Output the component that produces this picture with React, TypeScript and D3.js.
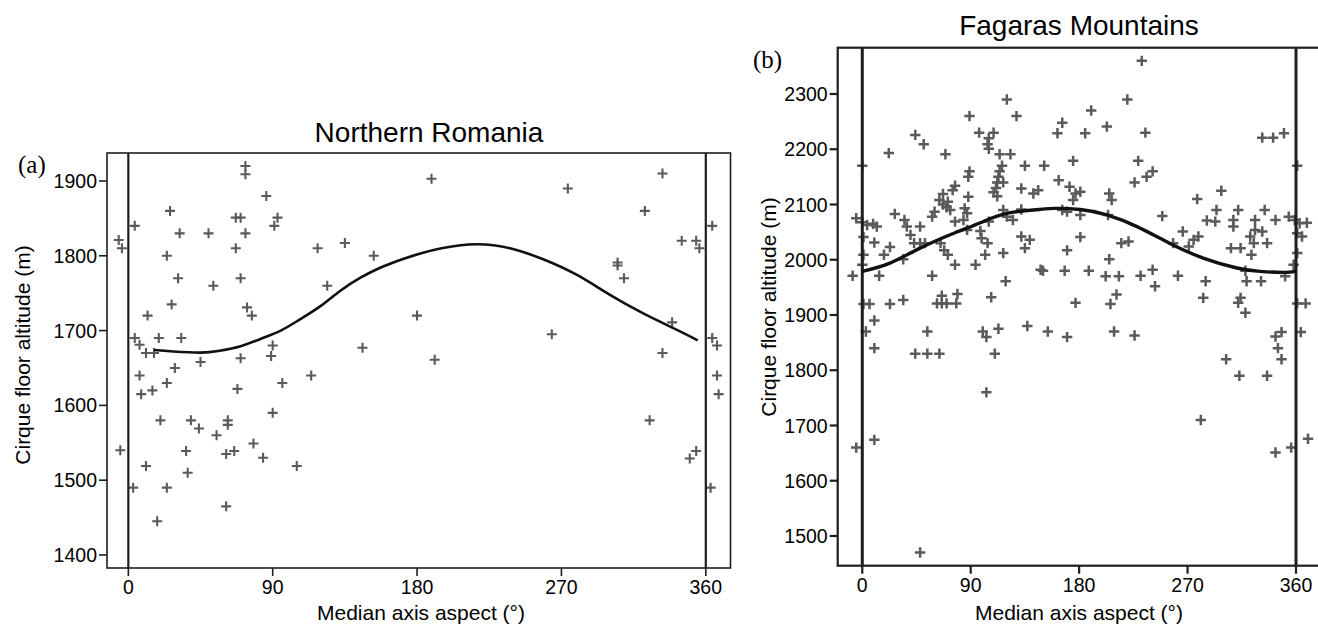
import React from "react";
import * as d3 from "d3";

// ---------- Data ----------
const xTicks = [0, 90, 180, 270, 360];
const northYTicks = [1400, 1500, 1600, 1700, 1800, 1900];
const fagarasYTicks = [1500, 1600, 1700, 1800, 1900, 2000, 2100, 2200, 2300];

const northAspect = [
  -6, -4, 4, 26, 32, 24, 31, 27, 12, 4, 7, 19, 33, 11, 16, 50, 53, 67, 70, 73,
  73, 73, 67, 70, 74, 77, 86, 91, 93, 90, 70, 89, 118, 124, -5, 3, 11, 18, 24, 20,
  7, 8, 15, 24, 29, 45, 68, 96, 114, 90, 39, 44, 55, 62, 62, 36, 37, 61, 66, 78,
  84, 105, 61, 135, 153, 189, 274, 333, 322, 345, 354, 356, 364, 305, 305, 309, 180, 339, 146, 264,
  364, 367, 333, 191, 367, 368, 325, 350, 354, 363,
];
const northAltitude = [
  1821, 1810, 1840, 1860, 1830, 1800, 1770, 1735, 1720, 1690, 1681, 1690, 1690, 1670, 1670, 1830, 1760, 1851, 1851, 1920,
  1909, 1830, 1810, 1770, 1731, 1720, 1880, 1840, 1851, 1680, 1663, 1666, 1810, 1760, 1540, 1490, 1519, 1445, 1490, 1580,
  1640, 1615, 1620, 1630, 1650, 1658, 1622, 1630, 1640, 1590, 1580, 1569, 1560, 1580, 1574, 1539, 1510, 1535, 1539, 1549,
  1530, 1519, 1465, 1817, 1800, 1903, 1890, 1910, 1860, 1820, 1820, 1810, 1840, 1791, 1787, 1770, 1720, 1711, 1677, 1695,
  1690, 1680, 1670, 1661, 1640, 1615, 1580, 1529, 1539, 1490,
];

const fagarasAspect = [
  -8, -5, 0, 0, 4, 9, 12, 1, 1, 0, 10, 14, 22, 27, 18, 23, 35, 37, 34, 40,
  43, 48, 52, 48, 44, 51, 58, 69, 58, 60, 64, 67, 70, 71, 73, 67, 75, 77, 65, 68,
  71, 77, 77, 84, 87, 85, 87, 88, 89, 89, 88, 97, 105, 109, 104, 105, 62, 66, 70, 78,
  66, 79, 107, 98, 99, 104, 102, 94, 105, 117, 119, 109, 111, 112, 113, 114, 116, 117, 112, 114,
  123, 120, 128, 135, 117, 120, 125, 132, 132, 142, 146, 132, 139, 135, 148, 151, 175, 163, 172, 177,
  181, 175, 166, 170, 181, 181, 170, 150, 168, 188, 177, 205, 207, 203, 190, 185, 162, 166, 204, 215,
  221, 205, 202, 213, 206, 211, 220, 232, 235, 229, 226, 236, 241, 231, 241, 243, 249, 262, 266, 258,
  271, 275, 279, 278, 285, 283, 298, 294, 286, 293, 312, 308, 308, 306, 314, 322, 325, 326, 332, 336,
  323, 326, 334, 343, 318, 319, 331, 351, 314, 312, 318, 332, 341, 350, 361, 354, 359, 363, 369, 361,
  365, 361, 358, 361, 368, 1, 6, 23, 34, 10, 3, 10, 44, 54, 64, 54, 48, -5, 10, 100,
  103, 113, 110, 103, 137, 154, 170, 209, 226, 302, 313, 336, 343, 348, 345, 348, 364, 281, 343, 356,
  370,
];
const fagarasAltitude = [
  1971, 2075, 2170, 2068, 2063, 2065, 2060, 2041, 2009, 1991, 2031, 1971, 2193, 2083, 2009, 2023, 2072, 2060, 2001, 2045,
  2030, 2030, 2030, 2060, 2226, 2209, 1971, 2191, 2078, 2087, 2108, 2100, 2095, 2105, 2090, 2119, 2126, 2134, 2030, 2017,
  2009, 1991, 2069, 2072, 2054, 2093, 2084, 2114, 2260, 2160, 2150, 2230, 2220, 2230, 2209, 2201, 1921, 1921, 1921, 1921,
  1935, 1938, 1932, 2052, 2039, 2030, 2009, 1991, 2069, 2012, 1961, 2122, 2130, 2140, 2150, 2160, 2170, 2140, 2115, 2191,
  2191, 2290, 2260, 2170, 2090, 2078, 2072, 2091, 2129, 2120, 2126, 2042, 2036, 2021, 1982, 2170, 2179, 2144, 2132, 2120,
  2123, 2108, 2090, 2087, 2081, 2041, 2017, 1980, 1980, 1980, 1922, 2120, 2108, 2241, 2270, 2229, 2229, 2248, 2081, 2030,
  2033, 2001, 1970, 1970, 1920, 1937, 2290, 2360, 2230, 2179, 2140, 2150, 2160, 1971, 1982, 1952, 2079, 1971, 2051, 2030,
  2024, 2036, 2042, 2110, 1961, 1931, 2125, 2090, 2071, 2069, 2090, 2072, 2060, 2021, 2021, 2042, 2030, 2054, 2051, 2030,
  2009, 2072, 2090, 2072, 1980, 1961, 1961, 1970, 1931, 1922, 1904, 2221, 2221, 2229, 2170, 2078, 2072, 2066, 2067, 2048,
  2042, 2012, 1991, 1921, 1921, 1920, 1920, 1920, 1927, 1890, 1870, 1840, 1830, 1830, 1830, 1870, 1470, 1660, 1674, 1870,
  1860, 1875, 1830, 1760, 1880, 1870, 1860, 1870, 1863, 1820, 1790, 1790, 1861, 1869, 1840, 1820, 1869, 1710, 1651, 1660,
  1676,
];

// fitted curves
const northFitAspect = [16, 28, 45, 57, 70, 82, 95, 107, 120, 132, 145, 157, 169, 181, 196, 217, 238, 259, 280, 300, 321, 342, 355];
const northFitAltitude = [1674, 1672, 1670.5, 1673, 1679, 1688.5, 1700, 1715, 1733, 1753, 1771, 1784, 1794, 1802.5, 1810.5, 1815.5, 1810, 1795, 1774, 1748, 1723, 1701, 1687];
const fagarasFitAspect = [0, 23, 48, 76, 98, 120, 147, 159, 181, 203, 228, 255, 283, 311, 330, 350, 360];
const fagarasFitAltitude = [1979, 1994, 2021, 2048, 2067, 2084, 2091, 2093, 2091, 2081, 2060, 2030, 2003, 1985, 1979, 1977, 1979];

// ---------- Drawing ----------
const SANS = "'Liberation Sans', Arial, Helvetica, sans-serif";
const SERIF = "'Liberation Serif', 'Times New Roman', serif";
const INK = "#1e1e1e";
const MARK = "#5a5a5a";

type PanelProps = {
  title: string;
  titleX: number;
  titleY: number;
  tag: string;
  tagX: number;
  tagY: number;
  xDomain: [number, number];
  xRange: [number, number];
  yDomain: [number, number];
  yRange: [number, number];
  yTicks: number[];
  aspect: number[];
  altitude: number[];
  fitAspect: number[];
  fitAltitude: number[];
  yLabelX: number;
  yLabelY: number;
  xLabelX: number;
  boxWidth: number;
  refWidth: number;
  fitWidth: number;
  plusHalf: number;
  plusWidth: number;
};

function Panel(p: PanelProps) {
  const x = d3.scaleLinear().domain(p.xDomain).range(p.xRange);
  const y = d3.scaleLinear().domain(p.yDomain).range(p.yRange);
  const [x0, x1] = p.xRange;
  const [yb, yt] = p.yRange;
  const fitPts: [number, number][] = p.fitAspect.map((a, i) => [a, p.fitAltitude[i]]);
  const line = d3
    .line<[number, number]>()
    .x((d) => x(d[0]))
    .y((d) => y(d[1]))
    .curve(d3.curveNatural);
  const plus = `M${-p.plusHalf},0H${p.plusHalf}M0,${-p.plusHalf}V${p.plusHalf}`;
  return (
    <g>
      <text x={p.titleX} y={p.titleY} textAnchor="middle" fontFamily={SANS} fontSize={28} fill="#000">
        {p.title}
      </text>
      <text x={p.tagX} y={p.tagY} fontFamily={SERIF} fontSize={25} fill="#000">
        {p.tag}
      </text>
      <g stroke={MARK} strokeWidth={p.plusWidth} fill="none">
        {p.aspect.map((a, i) => (
          <path key={i} d={plus} transform={`translate(${x(a)},${y(p.altitude[i])})`} />
        ))}
      </g>
      {[0, 360].map((v) => (
        <line key={v} x1={x(v)} x2={x(v)} y1={yt} y2={yb} stroke={INK} strokeWidth={p.refWidth} />
      ))}
      <path d={line(fitPts) || ""} fill="none" stroke="#111" strokeWidth={p.fitWidth} />
      <rect x={x0} y={yt} width={x1 - x0} height={yb - yt} fill="none" stroke={INK} strokeWidth={p.boxWidth} />
      {p.yTicks.map((t) => (
        <g key={t}>
          <line x1={x0 - 8} x2={x0} y1={y(t)} y2={y(t)} stroke={INK} strokeWidth={p.boxWidth} />
          <text x={x0 - 10} y={y(t)} dy="0.36em" textAnchor="end" fontFamily={SANS} fontSize={19.5} fill="#000">
            {t}
          </text>
        </g>
      ))}
      {xTicks.map((t) => (
        <g key={t}>
          <line x1={x(t)} x2={x(t)} y1={yb} y2={yb + 8} stroke={INK} strokeWidth={p.boxWidth} />
          <text x={x(t)} y={yb + 26} textAnchor="middle" fontFamily={SANS} fontSize={19.5} fill="#000">
            {t}
          </text>
        </g>
      ))}
      <text
        transform={`translate(${p.yLabelX},${p.yLabelY}) rotate(-90)`}
        textAnchor="middle"
        fontFamily={SANS}
        fontSize={21}
        fill="#000"
      >
        Cirque floor altitude (m)
      </text>
      <text x={p.xLabelX} y={620} textAnchor="middle" fontFamily={SANS} fontSize={21} fill="#000">
        Median axis aspect (°)
      </text>
    </g>
  );
}

export default function App() {
  return (
    <svg
      width={1318}
      height={628}
      viewBox="0 0 1318 628"
      style={{ position: "absolute", left: 0, top: 0, background: "#fff" }}
    >
      <rect x={0} y={0} width={1318} height={628} fill="#fff" />
      <Panel
        title="Northern Romania"
        titleX={429}
        titleY={142}
        tag="(a)"
        tagX={18}
        tagY={173}
        xDomain={[-13.3, 375.4]}
        xRange={[107, 730.5]}
        yDomain={[1382.6, 1937.4]}
        yRange={[568, 153]}
        yTicks={northYTicks}
        aspect={northAspect}
        altitude={northAltitude}
        fitAspect={northFitAspect}
        fitAltitude={northFitAltitude}
        yLabelX={30}
        yLabelY={355}
        xLabelX={421}
        boxWidth={1.6}
        refWidth={2.2}
        fitWidth={2.6}
        plusHalf={5}
        plusWidth={2.1}
      />
      <Panel
        title="Fagaras Mountains"
        titleX={1079}
        titleY={35}
        tag="(b)"
        tagX={753}
        tagY={68}
        xDomain={[-20.4, 380]}
        xRange={[837.7, 1320.1]}
        yDomain={[1446.2, 2383.8]}
        yRange={[565.7, 47.7]}
        yTicks={fagarasYTicks}
        aspect={fagarasAspect}
        altitude={fagarasAltitude}
        fitAspect={fagarasFitAspect}
        fitAltitude={fagarasFitAltitude}
        yLabelX={776}
        yLabelY={307}
        xLabelX={1079}
        boxWidth={2.2}
        refWidth={3}
        fitWidth={3.4}
        plusHalf={5.2}
        plusWidth={2.5}
      />
    </svg>
  );
}
